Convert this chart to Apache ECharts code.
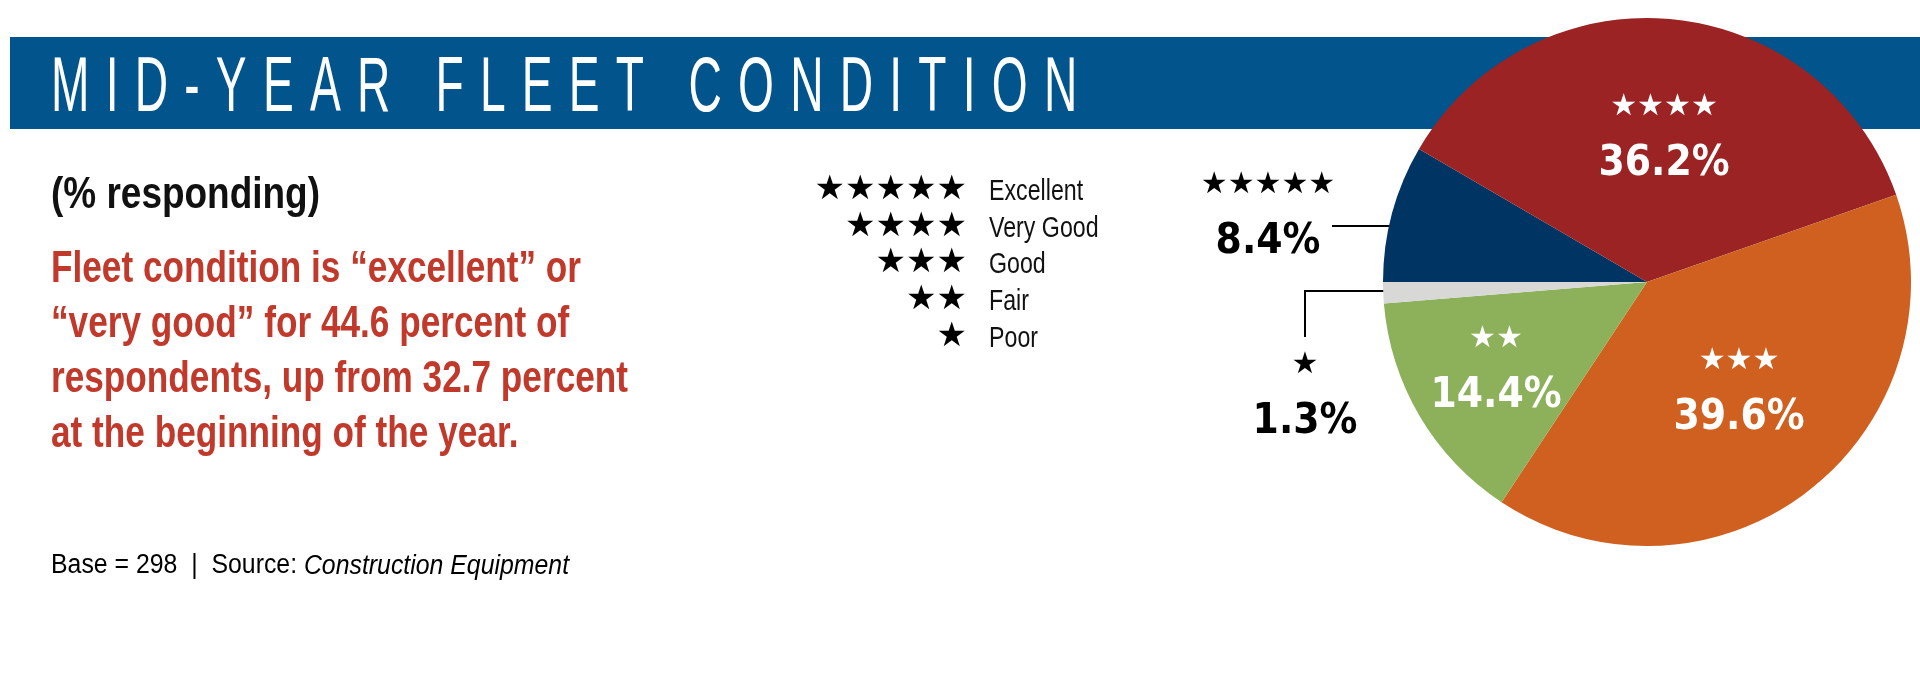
<!DOCTYPE html>
<html><head><meta charset="utf-8">
<script src="https://cdn.jsdelivr.net/npm/echarts@6/dist/echarts.min.js"></script>
<style>
html,body{margin:0;padding:0;background:#fff;}
#bar{position:absolute;left:10px;top:37px;width:1910px;height:92px;background:#02548c;}
#title{position:absolute;left:51px;top:37px;height:92px;line-height:94px;color:#fff;font-family:"Liberation Sans",sans-serif;font-size:77px;letter-spacing:27px;white-space:nowrap;transform:scaleX(0.6);transform-origin:0 50%;}
#main{position:absolute;left:0;top:0;width:1920px;height:679px;}
</style></head>
<body>
<div id="bar"></div>
<div id="title">MID-YEAR FLEET CONDITION</div>
<div id="main"></div>
<script>
const categories = ['Excellent','Very Good','Good','Fair','Poor'];
const starCounts = [5,4,3,2,1];
const values = [8.4,36.2,39.6,14.4,1.3];
const colors = ['#003563','#9c2323','#d06020','#8db15a','#d8d8d6'];
const subtitle = '(% responding)';
const noteLines = ['Fleet condition is \u201cexcellent\u201d or','\u201cvery good\u201d for 44.6 percent of','respondents, up from 32.7 percent','at the beginning of the year.'];
const footer = 'Base = 298  |  Source: ';
const footerItalic = 'Construction Equipment';

const F = '"Liberation Sans",sans-serif';
const FC = '"DejaVu Sans Condensed","DejaVu Sans",sans-serif';
const stars = n => '\u2605'.repeat(n);
const chart = echarts.init(document.getElementById('main'), null, {renderer:'canvas'});

const graphics = [];
graphics.push({type:'text',x:51,y:196,scaleX:0.84,style:{text:subtitle,font:'bold 44px '+F,fill:'#111',verticalAlign:'middle'}});
noteLines.forEach((t,i)=>graphics.push({type:'text',x:51,y:270+i*55,scaleX:0.8,style:{text:t,font:'bold 44px '+F,fill:'#c0392b',verticalAlign:'middle'}}));
graphics.push({type:'text',x:51,y:566,scaleX:0.92,style:{
  text:'{n|'+footer+'}{i|'+footerItalic+'}',verticalAlign:'middle',
  rich:{n:{fontSize:27,fontFamily:F,color:'#111'},i:{fontSize:27,fontFamily:F,fontStyle:'italic',color:'#111'}}}});
categories.forEach((c,i)=>{
  graphics.push({type:'text',x:967,y:190+i*36.7,style:{text:stars(starCounts[i]),font:'34px "DejaVu Sans"',fill:'#000',align:'right',verticalAlign:'middle'}});
  graphics.push({type:'text',x:989,y:192+i*36.7,scaleX:0.8,style:{text:c,font:'29px '+F,fill:'#111',align:'left',verticalAlign:'middle'}});
});
// leader lines
graphics.push({type:'polyline',shape:{points:[[1332,226],[1418,226]]},style:{stroke:'#000',lineWidth:2}});
graphics.push({type:'polyline',shape:{points:[[1305,337],[1305,291],[1390,291]]},style:{stroke:'#000',lineWidth:2}});

const labelPos = [[1268,214],[1664,136],[1739,390],[1496,368],[1305,394]];
const data = categories.map((c,i)=>{
  const outside = i===0 || i===4;
  return {name:c,value:values[i],itemStyle:{color:colors[i]},
    label:{color: outside?'#000':'#fff'}};
});

chart.setOption({
  animation:false,
  backgroundColor:'transparent',
  graphic:graphics,
  series:[{
    type:'pie',center:[1647,282],radius:264,startAngle:180,clockwise:true,
    itemStyle:{borderWidth:0},
    data:data,
    label:{show:true,position:'inside',
      formatter:p=>'{s|'+stars(starCounts[p.dataIndex])+'}\n{v|'+values[p.dataIndex].toFixed(1)+'%}',
      rich:{s:{fontFamily:'DejaVu Sans',fontSize:30,lineHeight:56,align:'center'},
            v:{fontFamily:FC,fontWeight:'bold',fontSize:42,lineHeight:58,align:'center'}}},
    labelLine:{show:false},
    labelLayout:p=>({x:labelPos[p.dataIndex][0],y:labelPos[p.dataIndex][1],align:'center',verticalAlign:'middle'})
  }]
});
</script>
</body></html>
